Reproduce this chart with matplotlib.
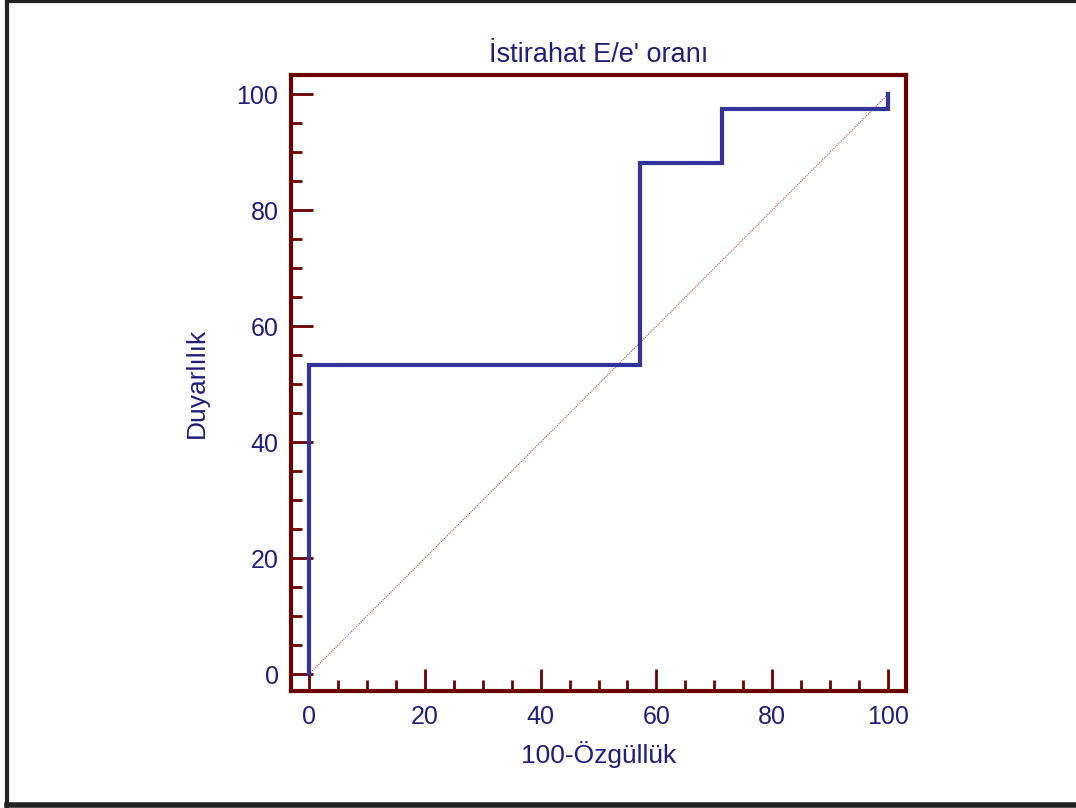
import matplotlib
matplotlib.use("Agg")
import matplotlib.pyplot as plt
from matplotlib.ticker import MultipleLocator
from matplotlib.lines import Line2D

# ROC curve points (100-specificity, sensitivity)
fpr = [0, 0, 57.1, 57.1, 71.4, 71.4, 100, 100]
tpr = [0, 53.3, 53.3, 88.2, 88.2, 97.4, 97.4, 100]
diag = [0, 100]

navy = "#1f1f7a"
curve_col = "#333399"
spine_col = "#6b0000"

plt.rcParams["font.family"] = ["Liberation Sans", "DejaVu Sans"]

fig = plt.figure(figsize=(10.76, 8.08), dpi=100)
ax = fig.add_axes([291/1076, 1-691/808, (906-291)/1076, (691-75)/808])

ax.plot(diag, diag, color="#b05050", lw=0.8, ls=(0, (1, 1)))
ax.plot(fpr, tpr, color=curve_col, lw=3, solid_joinstyle="miter")

ax.set_xlim(-3.1, 103.1)
ax.set_ylim(-2.9, 103.3)

for s in ax.spines.values():
    s.set_color(spine_col)
    s.set_linewidth(3)

ax.xaxis.set_major_locator(MultipleLocator(20))
ax.xaxis.set_minor_locator(MultipleLocator(5))
ax.yaxis.set_major_locator(MultipleLocator(20))
ax.yaxis.set_minor_locator(MultipleLocator(5))
ax.tick_params(which="major", direction="in", length=16, width=2, color=spine_col,
               labelcolor=navy, labelsize=18, pad=10)
ax.tick_params(which="minor", direction="in", length=8, width=2, color=spine_col)
ax.tick_params(axis="y", pad=9)

ax.set_title("İstirahat E/e' oranı", color=navy, fontsize=19.5, pad=9)
ax.set_xlabel("100-Özgüllük", color=navy, fontsize=19, labelpad=9)
ax.set_ylabel("Duyarlılık", color=navy, fontsize=19, labelpad=20)

# outer frame
fig.add_artist(Line2D([7/1076, 7/1076], [0, 1], color="#222222", lw=3, transform=fig.transFigure))
fig.add_artist(Line2D([7/1076, 1], [1-1/808, 1-1/808], color="#222222", lw=3, transform=fig.transFigure))
fig.add_artist(Line2D([7/1076, 1], [1-805/808, 1-805/808], color="#222222", lw=4, transform=fig.transFigure))

fig.savefig("out.png", dpi=100)
